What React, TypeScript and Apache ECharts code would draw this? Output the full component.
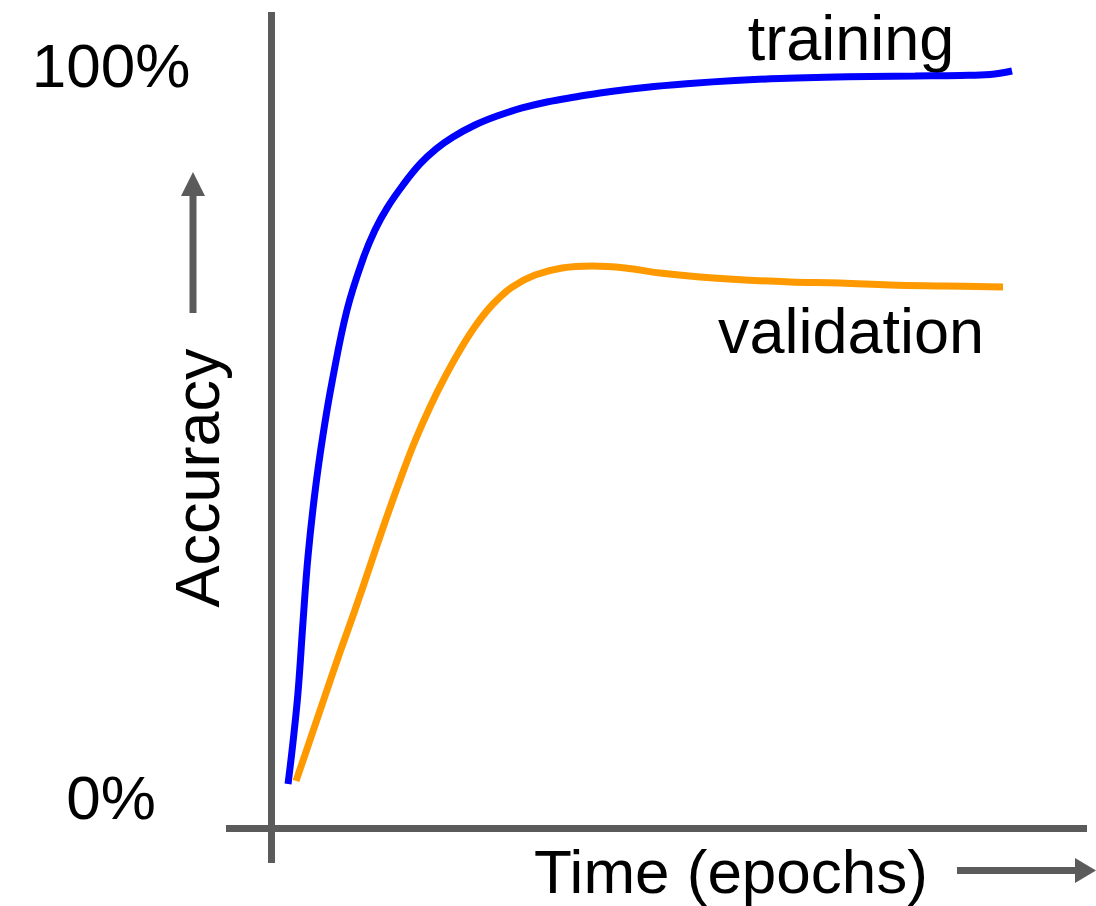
import React, { useEffect, useRef } from "react";
import * as echarts from "echarts";

// Epoch positions (x) and accuracy (%) for each curve
const trainingX = [2.13, 2.75, 3.38, 4.0, 4.63, 5.5, 6.5, 7.63, 9.5, 11.5, 13.0, 14.5, 16.5, 18.63, 20.63, 22.75, 25.5, 28.25, 31.38, 34.5, 38.0, 41.13, 46.75, 52.38, 58.0, 63.63, 69.25, 74.88, 80.5, 86.13, 89.88, 92.63];
const trainingY = [1.78, 7.51, 14.34, 23.91, 32.92, 41.67, 49.45, 56.69, 66.53, 73.5, 77.46, 80.46, 83.61, 86.48, 88.52, 90.16, 91.8, 93.03, 94.13, 94.95, 95.63, 96.17, 96.93, 97.47, 97.88, 98.16, 98.32, 98.43, 98.5, 98.57, 98.7, 99.18];

const validationX = [3.13, 4.88, 6.75, 8.63, 10.5, 12.38, 14.25, 16.13, 18.0, 19.88, 21.75, 23.63, 25.63, 27.75, 30.13, 33.0, 36.38, 40.13, 44.25, 48.63, 53.63, 59.25, 64.88, 71.13, 77.38, 84.25, 91.5];
const validationY = [2.19, 7.79, 13.8, 19.81, 25.55, 31.56, 37.57, 43.31, 48.63, 53.28, 57.38, 61.07, 64.48, 67.35, 69.67, 71.31, 72.27, 72.54, 72.27, 71.58, 71.04, 70.63, 70.36, 70.22, 69.95, 69.81, 69.67];

const yTickValues = [0, 100];
const yTickLabels = ["0%", "100%"];

const seriesNames = ["training", "validation"];
const xAxisName = "Time (epochs)";
const yAxisName = "Accuracy";

const FONT = "'Liberation Sans', Arial, Helvetica, sans-serif";
const AXIS_COLOR = "#5b5b5b";
const FS = 63;

export default function App() {
  const ref = useRef<HTMLDivElement>(null);

  useEffect(() => {
    document.body.style.margin = "0";
    if (!ref.current) return;
    const chart = echarts.init(ref.current, null, { renderer: "svg" });

    const zip = (xs: number[], ys: number[]) => xs.map((x, i) => [x, ys[i]]);

    const textStyle = (text: string, size: number = FS) => ({
      text,
      fontSize: size,
      fontFamily: FONT,
      fill: "#000000",
      align: "center",
      verticalAlign: "middle",
      lineHeight: size,
    });

    chart.setOption({
      animation: false,
      backgroundColor: "#ffffff",
      grid: { left: 271, top: 65, width: 800, height: 732, containLabel: false },
      xAxis: {
        type: "value",
        min: 0,
        max: 100,
        show: false,
      },
      yAxis: {
        type: "value",
        min: 0,
        max: 100,
        interval: 100,
        axisLine: { show: false },
        axisTick: { show: false },
        splitLine: { show: false },
        axisLabel: {
          show: true,
          margin: 160,
          align: "center",
          verticalAlign: "middle",
          fontSize: 62,
          fontFamily: FONT,
          color: "#000000",
          formatter: (v: number) => {
            const i = yTickValues.indexOf(v);
            return i >= 0 ? yTickLabels[i] : "";
          },
        },
      },
      series: [
        {
          name: seriesNames[0],
          type: "line",
          data: zip(trainingX, trainingY),
          smooth: 0.4,
          showSymbol: false,
          symbol: "none",
          lineStyle: { color: "#0000ff", width: 7, cap: "butt" },
          z: 3,
        },
        {
          name: seriesNames[1],
          type: "line",
          data: zip(validationX, validationY),
          smooth: 0.4,
          showSymbol: false,
          symbol: "none",
          lineStyle: { color: "#ff9900", width: 7, cap: "butt" },
          z: 4,
        },
      ],
      graphic: [
        // axes
        {
          type: "line",
          shape: { x1: 271.5, y1: 12, x2: 271.5, y2: 863 },
          style: { stroke: AXIS_COLOR, lineWidth: 7 },
          z: 1,
        },
        {
          type: "line",
          shape: { x1: 226, y1: 828.5, x2: 1087, y2: 828.5 },
          style: { stroke: AXIS_COLOR, lineWidth: 7 },
          z: 1,
        },
        // up arrow
        {
          type: "line",
          shape: { x1: 193, y1: 194, x2: 193, y2: 313 },
          style: { stroke: AXIS_COLOR, lineWidth: 7 },
        },
        {
          type: "polygon",
          shape: { points: [[193, 172], [181, 196], [205, 196]] },
          style: { fill: AXIS_COLOR },
        },
        // right arrow
        {
          type: "line",
          shape: { x1: 957, y1: 870.5, x2: 1077, y2: 870.5 },
          style: { stroke: AXIS_COLOR, lineWidth: 7 },
        },
        {
          type: "polygon",
          shape: { points: [[1096, 870.5], [1075, 858], [1075, 883]] },
          style: { fill: AXIS_COLOR },
        },
        // axis names
        { type: "text", x: 731, y: 871, style: textStyle(xAxisName, 62) },
        { type: "text", x: 197, y: 478, rotation: Math.PI / 2, style: textStyle(yAxisName) },
        // series labels
        { type: "text", x: 851, y: 38, style: textStyle(seriesNames[0]) },
        { type: "text", x: 851, y: 331, style: textStyle(seriesNames[1]) },
      ],
    });

    return () => {
      chart.dispose();
    };
  }, []);

  return <div ref={ref} style={{ width: 1096, height: 906 }} />;
}
